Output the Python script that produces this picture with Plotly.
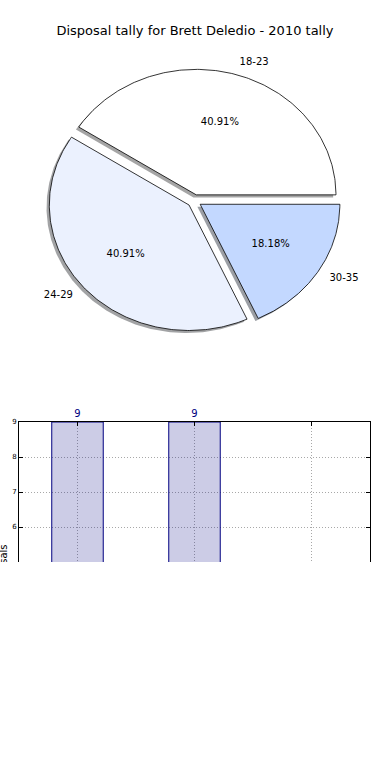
import numpy as np
import plotly.graph_objects as go

# ---- data ----
age_groups = ["18-23", "24-29", "30-35"]
disposals = [9, 9, 4]
slice_colors = ["#FFFFFF", "#EBF1FE", "#C3D8FF"]
chart_title = "Disposal tally for Brett Deledio - 2010 tally"
ytick_vals = [5, 6, 7, 8, 9]
y_axis_label = "Disposals"

# ---- pie geometry (matplotlib-like) ----
explode = 0.05
shadow_dx, shadow_dy = -0.02, -0.02
label_dist = 1.1
pct_dist = 0.6

FONT = "DejaVu Sans"
W, H = 390, 562

fig = go.Figure()

total = float(sum(disposals))
fracs = [v / total for v in disposals]

wedges = []
start = 0.0
for lab, f, col in zip(age_groups, fracs, slice_colors):
    t1 = start * 2 * np.pi
    t2 = (start + f) * 2 * np.pi
    mid = 0.5 * (t1 + t2)
    cx, cy = explode * np.cos(mid), explode * np.sin(mid)
    th = np.linspace(t1, t2, 200)
    xs = np.concatenate([[cx], cx + np.cos(th), [cx]])
    ys = np.concatenate([[cy], cy + np.sin(th), [cy]])
    wedges.append((lab, f, col, mid, cx, cy, xs, ys))
    start += f


def shade(hexcol):
    h = hexcol.lstrip("#")
    r, g, b = (int(h[i:i + 2], 16) for i in (0, 2, 4))
    return "rgba(%d,%d,%d,0.5)" % (r * 0.3, g * 0.3, b * 0.3)


# shadows first
for lab, f, col, mid, cx, cy, xs, ys in wedges:
    fig.add_trace(go.Scatter(
        x=xs + shadow_dx, y=ys + shadow_dy, mode="lines", fill="toself",
        fillcolor=shade(col), line=dict(width=0), xaxis="x2", yaxis="y2",
        hoverinfo="skip", showlegend=False))

# wedges
for lab, f, col, mid, cx, cy, xs, ys in wedges:
    fig.add_trace(go.Scatter(
        x=xs, y=ys, mode="lines", fill="toself", fillcolor=col,
        line=dict(color="black", width=0.8), xaxis="x2", yaxis="y2",
        hoverinfo="skip", showlegend=False))

# labels
for lab, f, col, mid, cx, cy, xs, ys in wedges:
    lx = cx + label_dist * np.cos(mid)
    ly = cy + label_dist * np.sin(mid)
    fig.add_trace(go.Scatter(
        x=[lx], y=[ly], mode="text", text=[lab],
        textposition="middle right" if lx > 0 else "middle left",
        textfont=dict(family=FONT, size=10, color="black"),
        xaxis="x2", yaxis="y2", hoverinfo="skip", showlegend=False))
    px_ = cx + pct_dist * np.cos(mid)
    py_ = cy + pct_dist * np.sin(mid)
    fig.add_trace(go.Scatter(
        x=[px_], y=[py_], mode="text", text=["%.2f%%" % (f * 100)],
        textposition="middle center",
        textfont=dict(family=FONT, size=10, color="black"),
        xaxis="x2", yaxis="y2", hoverinfo="skip", showlegend=False))

# ---- bar chart ----
xpos = list(range(len(age_groups)))
fig.add_trace(go.Bar(
    x=xpos, y=disposals, width=0.44,
    marker=dict(color="rgba(0,0,128,0.2)", line=dict(color="navy", width=1)),
    text=[str(v) for v in disposals], textposition="outside",
    textfont=dict(family=FONT, size=10, color="navy"),
    cliponaxis=False, showlegend=False, hoverinfo="skip"))

GRID = dict(showgrid=True, gridcolor="#a8a8a8", griddash="1px,2px",
            gridwidth=1, zeroline=False)

# pie axes: 1 unit = ~139.7 px horizontally, ~126.4 px vertically
fig.update_layout(
    width=W, height=H,
    margin=dict(l=19, r=20, t=0, b=0),
    paper_bgcolor="white", plot_bgcolor="white",
    font=dict(family=FONT, color="black"),
    title=dict(text=chart_title, x=0.5, xref="container", xanchor="center",
               y=1 - 30 / H, yref="container", yanchor="middle",
               font=dict(family=FONT, size=13, color="black")),
    xaxis2=dict(domain=[0, 1], range=[-1.2548, 1.2577], visible=False,
                anchor="y2"),
    yaxis2=dict(domain=[0.3, 1], range=[-1.5435, 1.5688], visible=False,
                anchor="x2"),
    xaxis=dict(domain=[0, 1], range=[-0.5, 2.5], anchor="y",
               tickvals=xpos, ticktext=age_groups, side="top",
               showticklabels=False, ticks="inside", ticklen=4,
               tickcolor="black", showline=True, linecolor="black",
               linewidth=1, mirror=False, **GRID),
    yaxis=dict(domain=[0, (H - 421) / H], range=[5, 9], anchor="x",
               tickvals=ytick_vals, ticks="inside", ticklen=4,
               tickcolor="black", showline=True, linecolor="black",
               linewidth=1, mirror="ticks",
               tickfont=dict(family=FONT, size=7, color="black"), **GRID),
)

# y-axis label (sits partly below the visible area, as in the reference)
fig.add_annotation(
    text=y_axis_label, textangle=-90, xref="paper", yref="paper",
    x=-15 / 351, y=-(569 - 562) / H, xanchor="center", yanchor="middle",
    showarrow=False, font=dict(family=FONT, size=10, color="black"))

fig.write_html("out.html", config={"displayModeBar": False},
               post_script="document.body.style.margin='0';")
